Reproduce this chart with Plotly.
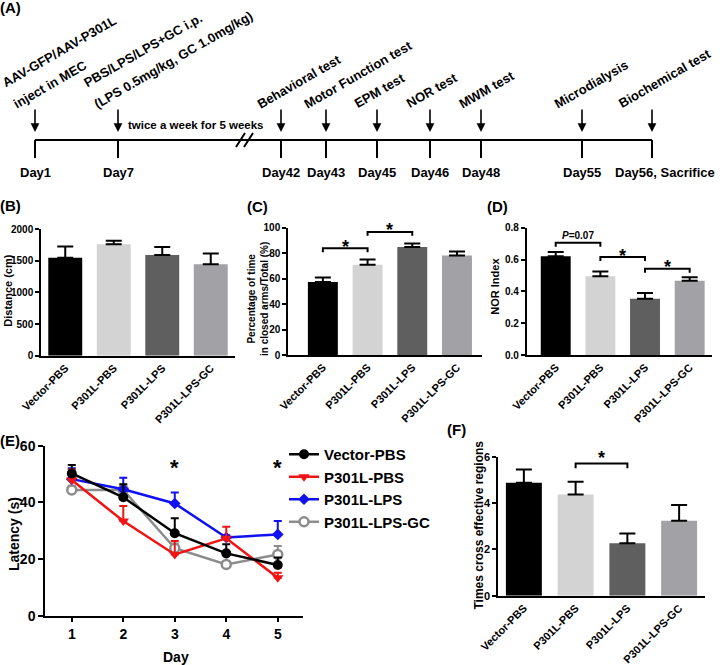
import plotly.graph_objects as go

W, H = 720, 665
FONT = "Liberation Sans, Arial, sans-serif"

# ---- data ----
groups = ["Vector-PBS", "P301L-PBS", "P301L-LPS", "P301L-LPS-GC"]
bar_colors = ["#000000", "#d3d3d3", "#5f5f5f", "#a2a2a6"]

distance = [1545, 1760, 1590, 1445]
distance_err = [180, 55, 125, 170]

closed_arm_pct = [57.3, 70.8, 84.9, 78.1]
closed_arm_err = [3.6, 4.2, 2.6, 3.2]

nor_index = [0.62, 0.495, 0.353, 0.466]
nor_err = [0.028, 0.03, 0.036, 0.023]

crossings = [4.88, 4.37, 2.26, 3.24]
crossings_err = [0.57, 0.55, 0.43, 0.67]

days = [1, 2, 3, 4, 5]
latency_vector = [50.2, 41.8, 29.1, 22.0, 17.9]
latency_vector_err = [3.0, 4.6, 5.3, 3.2, 2.6]
latency_pbs = [47.9, 33.4, 21.6, 27.3, 13.4]
latency_pbs_err = [3.7, 5.3, 4.8, 4.1, 1.8]
latency_lps = [48.2, 44.6, 39.6, 27.6, 28.7]
latency_lps_err = [3.8, 4.1, 3.9, 0.8, 4.7]
latency_gc = [44.4, 44.4, 23.8, 18.1, 21.6]
latency_gc_err = [1.5, 1.5, 1.7, 3.3, 3.0]
latency_star_days = [3, 5]

timeline_days = ["Day1", "Day7", "Day42", "Day43", "Day45", "Day46", "Day48", "Day55", "Day56, Sacrifice"]
timeline_events = [
    ["AAV-GFP/AAV-P301L", "inject in MEC"],
    ["PBS/LPS/LPS+GC i.p.", "(LPS 0.5mg/kg, GC 1.0mg/kg)"],
    ["Behavioral test"],
    ["Motor Function test"],
    ["EPM test"],
    ["NOR test"],
    ["MWM test"],
    ["Microdialysis"],
    ["Biochemical test"],
]

# schematic (non-linear) positions of the timeline, in pixels
timeline_x = [35, 118, 281, 326, 377, 430, 481, 582, 652]
label_shift = [-19, -21, -21, -19, -20, -21, -19, -25, -31]


def px(x):
    return x / W


def py(y):
    return 1 - y / H


fig = go.Figure()
annotations = []
shapes = []


def txt(x, y, text, size, **kw):
    d = dict(x=px(x), y=py(y), xref="paper", yref="paper", text=text, showarrow=False,
             xanchor="center", yanchor="middle",
             font=dict(family=FONT, size=size, color="black", weight="bold"))
    d.update(kw)
    annotations.append(d)


# ---- (A) timeline ----
shapes.append(dict(type="line", xref="paper", yref="paper", x0=px(35), x1=px(652), y0=py(140), y1=py(140),
                   line=dict(color="black", width=2)))
for x, day, ev, sh in zip(timeline_x, timeline_days, timeline_events, label_shift):
    shapes.append(dict(type="line", xref="paper", yref="paper", x0=px(x), x1=px(x), y0=py(140), y1=py(158),
                       line=dict(color="black", width=2)))
    annotations.append(dict(x=px(x), y=py(132), xref="paper", yref="paper", text="", showarrow=True,
                            ax=0, ay=-24, arrowhead=2, arrowsize=1.1, arrowwidth=1.6, arrowcolor="black"))
    if day.startswith("Day56"):
        txt(x + 13, 172, day, 13)
    else:
        txt(x, 172, day, 13)
    # event labels, rotated; last line sits just above the arrow
    n = len(ev)
    for i, line in enumerate(ev):
        k = n - 1 - i
        bx = x + sh - 11 * k
        by = 114 - 21 * k
        txt(bx - 8, by, line, 13, xanchor="left", yanchor="bottom", textangle=-30)
txt(196, 125, "twice a week for 5 weeks", 11.5)
for dx in (0, 8):
    shapes.append(dict(type="line", xref="paper", yref="paper", x0=px(236 + dx), x1=px(245 + dx),
                       y0=py(147), y1=py(133), line=dict(color="black", width=2)))

# ---- bar panels ----
axis_common = dict(showgrid=False, zeroline=False, showline=True, linecolor="black", linewidth=1.5,
                   automargin=False)


def bar_panel(n, values, errs, width, xdom, ydom, xrange, yrange, dtick, tickfmt, tsize, lsize):
    xa = "x" if n == 1 else f"x{n}"
    ya = "y" if n == 1 else f"y{n}"
    fig.add_trace(go.Bar(
        x=list(range(len(groups))), y=values, width=width, marker=dict(color=bar_colors, line=dict(width=0)),
        error_y=dict(type="data", array=errs, arrayminus=[0] * len(errs), symmetric=False,
                     color="black", thickness=2, width=8),
        xaxis=xa, yaxis=ya, showlegend=False, hoverinfo="skip"))
    key = "" if n == 1 else str(n)
    fig.layout["xaxis" + key] = dict(
        axis_common, domain=[px(xdom[0]), px(xdom[1])], range=xrange, anchor=ya,
        tickvals=list(range(len(groups))), ticktext=groups, tickangle=-45, ticks="",
        tickfont=dict(family=FONT, size=lsize, color="black", weight="bold"))
    fig.layout["yaxis" + key] = dict(
        axis_common, domain=[py(ydom[1]), py(ydom[0])], range=yrange, anchor=xa, dtick=dtick,
        tickformat=tickfmt, ticks="outside", ticklen=4, tickwidth=1.5, tickcolor="black",
        tickfont=dict(family=FONT, size=tsize, color="black", weight="bold"))
    return xa, ya


def bracket(xa, ya, a, b, lo, hi, star_y, text="*", size=18):
    fig.add_trace(go.Scatter(x=[a, a, b, b], y=[lo, hi, hi, lo], mode="lines",
                             line=dict(color="black", width=2), xaxis=xa, yaxis=ya,
                             showlegend=False, hoverinfo="skip"))
    annotations.append(dict(x=(a + b) / 2, y=star_y, xref=xa, yref=ya, text=text, showarrow=False,
                            xanchor="center", yanchor="middle",
                            font=dict(family=FONT, size=size, color="black", weight="bold")))


# (B)
bar_panel(1, distance, distance_err, 0.7, (41, 235), (229, 355.7), [-0.5, 3.5], [0, 2000], 500, None, 10, 11)
# (C)
xa, ya = bar_panel(2, closed_arm_pct, closed_arm_err, 0.67, (288, 482), (227.7, 355), [-0.78, 3.56], [0, 100], 20, None, 10, 11)
bracket(xa, ya, 0, 1, 80.8, 83.9, 85.1)
bracket(xa, ya, 1, 2, 93.6, 96.7, 98.4)
# (D)
xa, ya = bar_panel(3, nor_index, nor_err, 0.67, (526.7, 712), (227.7, 355), [-0.65, 3.5], [0, 0.8], 0.2, ".1f", 10, 11)
bracket(xa, ya, 0, 1, 0.681, 0.706, 0.748, text="<i>P</i>=0.07", size=10)
bracket(xa, ya, 1, 2, 0.591, 0.616, 0.625)
bracket(xa, ya, 2, 3, 0.517, 0.542, 0.552)
# (F)
xa, ya = bar_panel(5, crossings, crossings_err, 0.695, (498, 705), (456.7, 595.7), [-0.5, 3.5], [0, 6], 2, None, 11, 11)
bracket(xa, ya, 1, 2, 5.5, 5.71, 5.95)

# ---- (E) latency lines ----
series = [
    ("P301L-LPS-GC", latency_gc, latency_gc_err, "#8c8c8c", dict(symbol="circle", size=9, color="white", line=dict(color="#8c8c8c", width=2.5)), 4),
    ("P301L-LPS", latency_lps, latency_lps_err, "#1010f0", dict(symbol="diamond", size=9, color="#1010f0"), 3),
    ("P301L-PBS", latency_pbs, latency_pbs_err, "#f01414", dict(symbol="triangle-down", size=10, color="#f01414"), 2),
    ("Vector-PBS", latency_vector, latency_vector_err, "#000000", dict(symbol="circle", size=10, color="#000000"), 1),
]
for name, vals, errs, col, mk, rank in series:
    fig.add_trace(go.Scatter(
        x=days, y=vals, name=name, mode="lines+markers", line=dict(color=col, width=2.5), marker=mk,
        error_y=dict(type="data", array=errs, arrayminus=[0] * len(errs), symmetric=False,
                     color=col, thickness=2, width=4),
        xaxis="x4", yaxis="y4", legendrank=rank, hoverinfo="skip"))
fig.layout["xaxis4"] = dict(
    axis_common, domain=[px(45), px(303)], range=[0.48, 5.49], anchor="y4", tickvals=days,
    ticks="outside", ticklen=5, tickwidth=1.5, tickcolor="black",
    tickfont=dict(family=FONT, size=14, color="black", weight="bold"))
fig.layout["yaxis4"] = dict(
    axis_common, domain=[py(615.7), py(445.7)], range=[0, 60], anchor="x4", dtick=20,
    ticks="outside", ticklen=5, tickwidth=1.5, tickcolor="black",
    tickfont=dict(family=FONT, size=14, color="black", weight="bold"))
for d in latency_star_days:
    annotations.append(dict(x=d, y=52.2, xref="x4", yref="y4", text="*", showarrow=False,
                            xanchor="center", yanchor="middle",
                            font=dict(family=FONT, size=22, color="black", weight="bold")))

# ---- titles & panel letters ----
txt(10, 7.5, "(A)", 15)
txt(10, 205, "(B)", 15)
txt(257.5, 206.7, "(C)", 15)
txt(497.5, 206.7, "(D)", 15)
txt(10, 440, "(E)", 15)
txt(456.5, 429.5, "(F)", 15)
txt(8, 290.7, "Distance (cm)", 11, textangle=-90)
txt(258, 299, "Percentage of time<br>in closed arms/Total (%)", 10, textangle=-90)
txt(495, 286.7, "NOR Index", 11, textangle=-90)
txt(14, 534, "Latency (s)", 14, textangle=-90)
txt(175.5, 657, "Day", 14)
txt(478, 525.5, "Times cross effective regions", 12, textangle=-90)

fig.update_layout(
    template="none",
    width=W, height=H, margin=dict(l=0, r=0, t=0, b=0, autoexpand=False),
    paper_bgcolor="white", plot_bgcolor="white",
    font=dict(family=FONT, color="black"),
    annotations=annotations, shapes=shapes,
    legend=dict(x=px(284), y=py(438), xanchor="left", yanchor="top", itemwidth=30,
                bgcolor="rgba(0,0,0,0)", font=dict(family=FONT, size=15, color="black", weight="bold")),
    bargap=0.3,
)

# the page body has a default 8px margin; drop it so the figure fills the window
fig.write_html("out.html", config={"displayModeBar": False},
               post_script="document.body.style.margin='0';")
